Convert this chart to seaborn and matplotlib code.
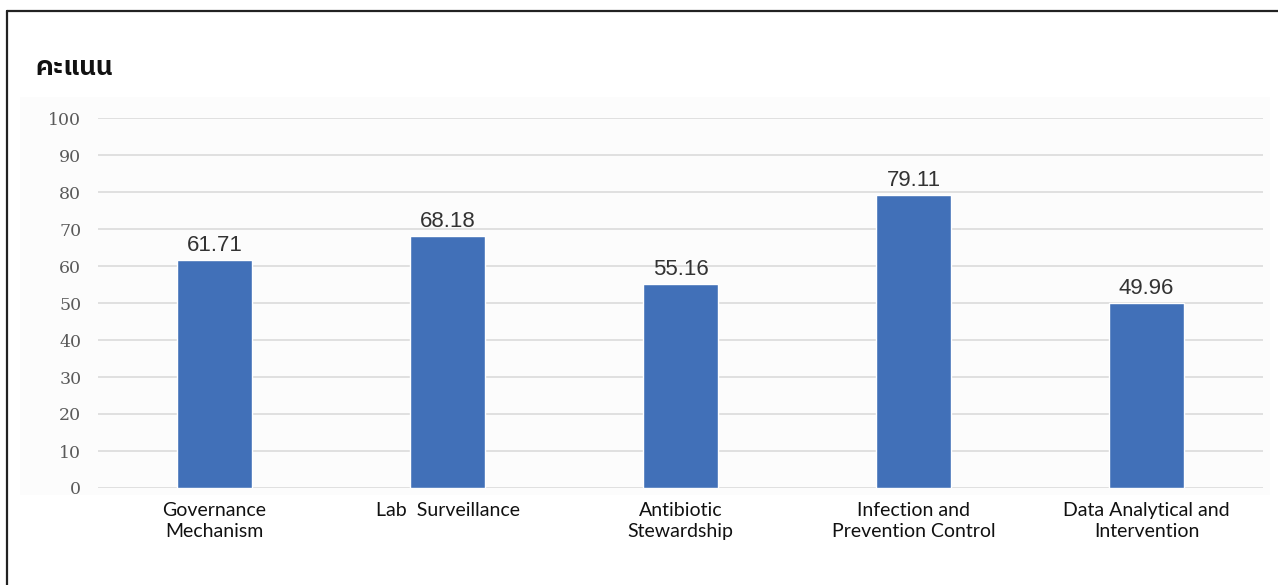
import matplotlib
matplotlib.use("Agg")
import matplotlib.pyplot as plt
from matplotlib import font_manager
from matplotlib.lines import Line2D
from matplotlib.patches import Rectangle
import seaborn as sns
import pandas as pd

categories = [
    "Governance\nMechanism",
    "Lab  Surveillance",
    "Antibiotic\nStewardship",
    "Infection and\nPrevention Control",
    "Data Analytical and\nIntervention",
]
scores = [61.71, 68.18, 55.16, 79.11, 49.96]
y_ticks = [0, 10, 20, 30, 40, 50, 60, 70, 80, 90, 100]
title_text = "คะแนน"


def find_thai_font():
    """Return a family name that covers Thai script."""
    try:
        from fontTools.ttLib import TTFont
    except Exception:
        return None
    found = []
    for f in font_manager.fontManager.ttflist:
        try:
            tt = TTFont(f.fname, fontNumber=0, lazy=True)
            cmap = tt.getBestCmap()
            if cmap and 0x0E04 in cmap and 0x0E19 in cmap:
                found.append(f)
        except Exception:
            continue
    if not found:
        return None
    found.sort(key=lambda f: (0 if "Thai" in f.name else 1, f.name))
    return found[0].name


sns.set_theme(style="white")
plt.rcParams["font.family"] = ["Lato", "DejaVu Sans"]

thai_family = find_thai_font()

df = pd.DataFrame({"category": categories, "score": scores})

fig = plt.figure(figsize=(12.78, 5.85), dpi=100)
fig.patch.set_facecolor("white")

# faint panel behind the chart
fig.add_artist(Rectangle((20 / 1278, 1 - 495 / 585), 1250 / 1278, 398 / 585,
                         transform=fig.transFigure, facecolor="#fcfcfc",
                         edgecolor="none", zorder=0))

ax = fig.add_axes([98 / 1278, 1 - 488 / 585, 1165 / 1278, 370 / 585])
ax.set_facecolor("none")

sns.barplot(data=df, x="category", y="score", color="#4170b8",
            width=0.32, saturation=1, ax=ax, zorder=3)

ax.set_ylim(0, 100)
ax.set_xlim(-0.5, 4.5)
ax.set_yticks(y_ticks)
ax.set_yticklabels([str(t) for t in y_ticks], family="DejaVu Serif",
                   fontsize=12.5, color="#5a5a5a")
ax.tick_params(axis="y", length=0, pad=12)
ax.tick_params(axis="x", length=0, pad=10)
for lbl in ax.get_xticklabels():
    lbl.set_fontsize(14)
    lbl.set_color("#111111")
    lbl.set_family(["Lato", "DejaVu Sans"])
    lbl.set_linespacing(1.3)
    lbl.set_verticalalignment("top")

ax.yaxis.grid(True, color="#e0e0e0", linewidth=1.4, zorder=0)
ax.xaxis.grid(False)
for s in ax.spines.values():
    s.set_visible(False)
ax.set_xlabel("")
ax.set_ylabel("")

for container in ax.containers:
    ax.bar_label(container, labels=[f"{v:.2f}" for v in scores], padding=3,
                 fontsize=16, family="Liberation Sans", color="#333333")

# page frame (top and left edges)
fig.add_artist(Line2D([6.5 / 1278, 1.0], [1 - 10.5 / 585, 1 - 10.5 / 585],
                      transform=fig.transFigure, color="#222222", linewidth=1.6))
fig.add_artist(Line2D([6.5 / 1278, 6.5 / 1278], [1 - 10.5 / 585, 0.0],
                      transform=fig.transFigure, color="#222222", linewidth=1.6))

title_fam = [thai_family, "DejaVu Sans"] if thai_family else ["DejaVu Sans"]
fig.text(35 / 1278, 1 - 68 / 585, title_text, family=title_fam,
         fontsize=19, fontweight="bold", color="#111111", va="center", ha="left")

fig.savefig("out.png", dpi=100, facecolor="white")
